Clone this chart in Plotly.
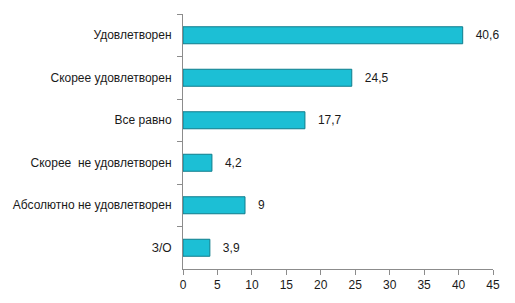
import plotly.graph_objects as go

categories = ["Удовлетворен", "Скорее удовлетворен", "Все равно",
              "Скорее  не удовлетворен", "Абсолютно не удовлетворен", "З/О"]
values = [40.6, 24.5, 17.7, 4.2, 9.0, 3.9]
x_ticks = [0, 5, 10, 15, 20, 25, 30, 35, 40, 45]

labels = ["   " + f"{v:g}".replace(".", ",") for v in values]

fig = go.Figure(go.Bar(
    y=categories, x=values, orientation="h",
    text=labels, textposition="outside", cliponaxis=False,
    textfont=dict(size=12, color="#1a1a1a"),
    width=0.4,
    marker=dict(color="#1CBFD5", line=dict(color="#0F7D8C", width=1)),
))

fig.update_layout(
    width=515, height=303,
    margin=dict(l=183, r=22, t=14, b=34),
    paper_bgcolor="white", plot_bgcolor="white",
    font=dict(family="Liberation Sans, Arial, sans-serif", size=12, color="#1a1a1a"),
    showlegend=False,
)
fig.update_xaxes(
    range=[0, 45], tickvals=x_ticks, showgrid=False, zeroline=False,
    showline=True, linecolor="#8c8c8c", linewidth=1,
    ticks="outside", ticklen=5, tickcolor="#8c8c8c",
)
fig.update_yaxes(
    categoryorder="array", categoryarray=categories, autorange="reversed",
    showgrid=False, showline=True, linecolor="#8c8c8c", linewidth=1,
    ticks="outside", ticklen=5, tickcolor="#8c8c8c", tickson="boundaries",
    ticklabelstandoff=8,
)

fig.write_html("out.html")
